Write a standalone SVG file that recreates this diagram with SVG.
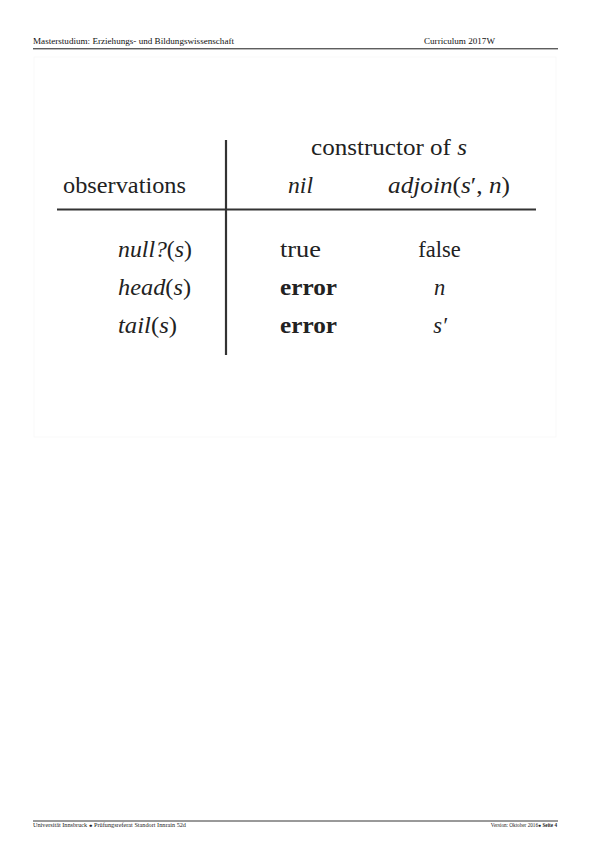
<svg xmlns="http://www.w3.org/2000/svg" width="595" height="842" viewBox="0 0 595 842">
<style>
.hdr{font-family:"Liberation Serif","Times New Roman",serif;font-size:8.5px;fill:#111}
.ftr{font-family:"Liberation Serif","Times New Roman",serif;font-size:5.2px;fill:#222}
.cell{font-family:"Liberation Serif","DejaVu Serif",serif;font-size:22.5px;fill:#222}
.it{font-style:italic}
.up{font-style:normal}
.bd{font-weight:bold}
.rule{stroke:#333;stroke-width:2.2;fill:none}
</style>
<rect width="595" height="842" fill="#fff"/>
<g id="header">
<text class="hdr" x="33" y="44" textLength="201" lengthAdjust="spacingAndGlyphs">Masterstudium: Erziehungs- und Bildungswissenschaft</text>
<text class="hdr" x="424" y="44" textLength="71" lengthAdjust="spacingAndGlyphs">Curriculum 2017W</text>
<line x1="33" y1="48.8" x2="558" y2="48.8" stroke="#000" stroke-width="0.9"/>
</g>
<rect id="frame" x="34" y="57" width="522" height="380" fill="none" stroke="#f7f7f7" stroke-width="0.8"/>
<g id="table" font-family="Liberation Serif, DejaVu Serif, serif">
<line class="rule" x1="226" y1="140" x2="226" y2="355"/>
<line class="rule" x1="57" y1="209.5" x2="536" y2="209.5"/>
<text class="cell" font-family="Liberation Serif, serif" x="311" y="154.5" textLength="156" lengthAdjust="spacingAndGlyphs">constructor of <tspan class="it">s</tspan></text>
<text class="cell" font-family="Liberation Serif, serif" x="63" y="193" textLength="123" lengthAdjust="spacingAndGlyphs">observations</text>
<text class="cell it" font-family="Liberation Serif, serif" x="288" y="193" textLength="25" lengthAdjust="spacingAndGlyphs">nil</text>
<text class="cell it" font-family="Liberation Serif, serif" x="388" y="193" textLength="122" lengthAdjust="spacingAndGlyphs">adjoin<tspan class="up">(</tspan>s<tspan class="up">′, </tspan>n<tspan class="up">)</tspan></text>
<text class="cell it" font-family="Liberation Serif, serif" x="118" y="257" textLength="74" lengthAdjust="spacingAndGlyphs">null?<tspan class="up">(</tspan>s<tspan class="up">)</tspan></text>
<text class="cell it" font-family="Liberation Serif, serif" x="118" y="295" textLength="73" lengthAdjust="spacingAndGlyphs">head<tspan class="up">(</tspan>s<tspan class="up">)</tspan></text>
<text class="cell it" font-family="Liberation Serif, serif" x="118" y="333" textLength="59" lengthAdjust="spacingAndGlyphs">tail<tspan class="up">(</tspan>s<tspan class="up">)</tspan></text>
<text class="cell" font-family="Liberation Serif, serif" x="280" y="257" textLength="41" lengthAdjust="spacingAndGlyphs">true</text>
<text class="cell bd" font-family="Liberation Serif, serif" x="280" y="295" textLength="57" lengthAdjust="spacingAndGlyphs">error</text>
<text class="cell bd" font-family="Liberation Serif, serif" x="280" y="333" textLength="57" lengthAdjust="spacingAndGlyphs">error</text>
<text class="cell" font-family="Liberation Serif, serif" x="439.5" y="257" text-anchor="middle">false</text>
<text class="cell it" font-family="Liberation Serif, serif" x="439.5" y="295" text-anchor="middle">n</text>
<text class="cell it" font-family="Liberation Serif, serif" x="440" y="333" text-anchor="middle">s′</text>
</g>
<g id="footer">
<line x1="33" y1="821" x2="558" y2="821" stroke="#000" stroke-width="0.8"/>
<text class="ftr" x="33" y="826.5" textLength="153" lengthAdjust="spacingAndGlyphs">Universität Innsbruck ● Prüfungsreferat Standort Innrain 52d</text>
<text class="ftr" x="557" y="826.5" text-anchor="end">Version: Oktober 2016● <tspan font-weight="bold">Seite 4</tspan></text>
</g>
</svg>
